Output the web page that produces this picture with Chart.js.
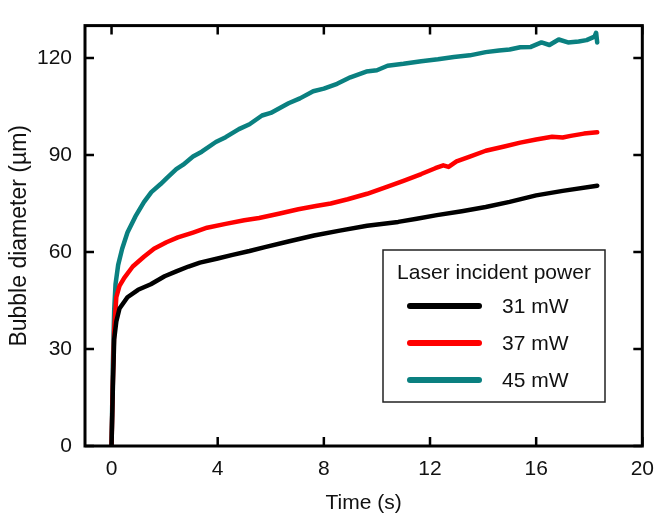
<!DOCTYPE html>
<html>
<head>
<meta charset="utf-8">
<script src="https://cdn.jsdelivr.net/npm/chart.js@4"></script>
<style>
  html, body { margin: 0; padding: 0; background: #fff; }
</style>
</head>
<body>
<canvas id="bubbleChart" width="665" height="515"></canvas>
<script>
// Bubble diameter (um) vs time (s)
const t31 = [0, 0.05, 0.1, 0.18, 0.3, 0.6, 1.0, 1.48, 2.0, 2.44, 2.9, 3.33, 4.0, 4.56, 5.2, 5.78, 6.7, 7.63, 8.6, 9.63, 10.8, 11.5, 12.26, 13.2, 14.1, 15.0, 16.0, 17.0, 18.3];
const d31 = [0, 18, 33, 38.5, 42.5, 46, 48.3, 50, 52.5, 54, 55.5, 56.7, 58, 59.1, 60.3, 61.5, 63.3, 65.1, 66.6, 68.1, 69.3, 70.3, 71.4, 72.6, 73.9, 75.5, 77.5, 78.9, 80.5];

const t37 = [0, 0.05, 0.1, 0.18, 0.3, 0.48, 0.8, 1.22, 1.6, 2.07, 2.5, 3.07, 3.6, 4.3, 5.0, 5.56, 6.3, 7.04, 7.7, 8.26, 8.9, 9.63, 10.4, 11.0, 11.67, 12.2, 12.5, 12.7, 13.0, 13.5, 14.1, 14.8, 15.4, 16.0, 16.6, 17.0, 17.3, 17.8, 18.3];
const d37 = [0, 20, 36, 46, 49.5, 52, 55.5, 58.5, 61, 63, 64.5, 66, 67.5, 68.7, 69.8, 70.5, 71.8, 73.2, 74.2, 75, 76.3, 78, 80.2, 82, 84.1, 85.9, 86.8, 86.3, 88.0, 89.5, 91.3, 92.6, 93.8, 94.8, 95.6, 95.4, 95.9, 96.6, 97];

const t45 = [0, 0.05, 0.1, 0.15, 0.25, 0.4, 0.6, 0.9, 1.22, 1.5, 1.85, 2.1, 2.44, 2.7, 3.07, 3.4, 3.93, 4.3, 4.8, 5.2, 5.67, 6.0, 6.67, 7.1, 7.6, 8.0, 8.5, 9.0, 9.6, 10.0, 10.4, 11.0, 11.67, 12.3, 12.9, 13.5, 14.1, 14.6, 15.0, 15.4, 15.8, 16.2, 16.5, 16.85, 17.2, 17.6, 17.9, 18.2, 18.26, 18.3];
const d45 = [0, 25, 42, 50, 56, 61, 66, 71, 75.4, 78.5, 81, 83, 85.6, 87, 89.5, 91, 94, 95.5, 98, 99.5, 102.2, 103, 106, 107.5, 109.7, 110.5, 112, 114, 115.8, 116.2, 117.6, 118.2, 119, 119.6, 120.3, 120.8, 121.8, 122.3, 122.6, 123.3, 123.4, 124.8, 124, 125.7, 124.8, 125.1, 125.5, 126.6, 127.8, 124.8];

const seriesLabels = ["31 mW", "37 mW", "45 mW"];
const seriesColors = ["#000000", "#ff0000", "#0a8080"];
const xTicks = [0, 4, 8, 12, 16, 20];
const yTicks = [0, 30, 60, 90, 120];

const toPoints = (t, d) => t.map((v, i) => ({ x: v, y: d[i] }));

const FONT = "'Liberation Sans', Arial, sans-serif";

// frame with inward tick marks on all four sides
const frameTicks = {
  id: "frameTicks",
  afterDatasetsDraw(chart) {
    const { ctx, chartArea: a, scales } = chart;
    ctx.save();
    ctx.strokeStyle = "#000";
    ctx.lineWidth = 2.5;
    ctx.beginPath();
    xTicks.forEach((v) => {
      const px = scales.x.getPixelForValue(v);
      ctx.moveTo(px, a.bottom); ctx.lineTo(px, a.bottom - 9);
      ctx.moveTo(px, a.top); ctx.lineTo(px, a.top + 9);
    });
    yTicks.forEach((v) => {
      const py = scales.y.getPixelForValue(v);
      ctx.moveTo(a.left, py); ctx.lineTo(a.left + 9, py);
      ctx.moveTo(a.right, py); ctx.lineTo(a.right - 9, py);
    });
    ctx.stroke();
    ctx.lineWidth = 3;
    ctx.strokeRect(a.left, a.top, a.right - a.left, a.bottom - a.top);
    ctx.restore();
  },
};

// legend box inside the plot
const insideLegend = {
  id: "insideLegend",
  afterDraw(chart) {
    const { ctx } = chart;
    const box = { x: 383, y: 250, w: 222, h: 152 };
    ctx.save();
    ctx.fillStyle = "#fff";
    ctx.fillRect(box.x, box.y, box.w, box.h);
    ctx.strokeStyle = "#222";
    ctx.lineWidth = 1.5;
    ctx.strokeRect(box.x, box.y, box.w, box.h);
    ctx.fillStyle = "#111";
    ctx.font = "21px " + FONT;
    ctx.textAlign = "center";
    ctx.textBaseline = "middle";
    ctx.fillText("Laser incident power", box.x + box.w / 2, box.y + 23);
    ctx.textAlign = "left";
    ctx.lineCap = "round";
    ctx.lineWidth = 6;
    chart.data.datasets.forEach((ds, i) => {
      const y = box.y + 56 + i * 37;
      ctx.strokeStyle = ds.borderColor;
      ctx.beginPath();
      ctx.moveTo(box.x + 27, y);
      ctx.lineTo(box.x + 96, y);
      ctx.stroke();
      ctx.fillText(ds.label, box.x + 119, y + 1);
    });
    ctx.restore();
  },
};

new Chart(document.getElementById("bubbleChart").getContext("2d"), {
  type: "line",
  data: {
    datasets: [
      { label: seriesLabels[0], data: toPoints(t31, d31), borderColor: seriesColors[0] },
      { label: seriesLabels[1], data: toPoints(t37, d37), borderColor: seriesColors[1] },
      { label: seriesLabels[2], data: toPoints(t45, d45), borderColor: seriesColors[2] },
    ],
  },
  options: {
    responsive: false,
    animation: false,
    parsing: false,
    layout: { padding: { top: 14, right: 13, left: 0, bottom: 0 } },
    elements: {
      point: { radius: 0 },
      line: { borderWidth: 4.5, tension: 0, borderJoinStyle: "round", borderCapStyle: "round" },
    },
    plugins: { legend: { display: false }, tooltip: { enabled: false } },
    scales: {
      x: {
        type: "linear",
        min: -1,
        max: 20,
        afterBuildTicks: (s) => { s.ticks = xTicks.map((v) => ({ value: v })); },
        afterFit: (s) => { s.height = 69; },
        grid: { display: false, drawTicks: false },
        border: { display: false },
        ticks: { color: "#111", padding: 11, font: { family: FONT, size: 21 } },
        title: {
          display: true,
          text: "Time (s)",
          color: "#111",
          padding: { top: 0, bottom: -1 },
          font: { family: FONT, size: 21 },
        },
      },
      y: {
        type: "linear",
        min: 0,
        max: 130,
        afterBuildTicks: (s) => { s.ticks = yTicks.map((v) => ({ value: v })); },
        afterFit: (s) => { s.width = 85; },
        grid: { display: false, drawTicks: false },
        border: { display: false },
        ticks: { color: "#111", padding: 13, font: { family: FONT, size: 21 } },
        title: {
          display: true,
          text: "Bubble diameter (µm)",
          color: "#111",
          padding: { top: 6, bottom: 0 },
          font: { family: FONT, size: 23 },
        },
      },
    },
  },
  plugins: [frameTicks, insideLegend],
});
</script>
</body>
</html>
